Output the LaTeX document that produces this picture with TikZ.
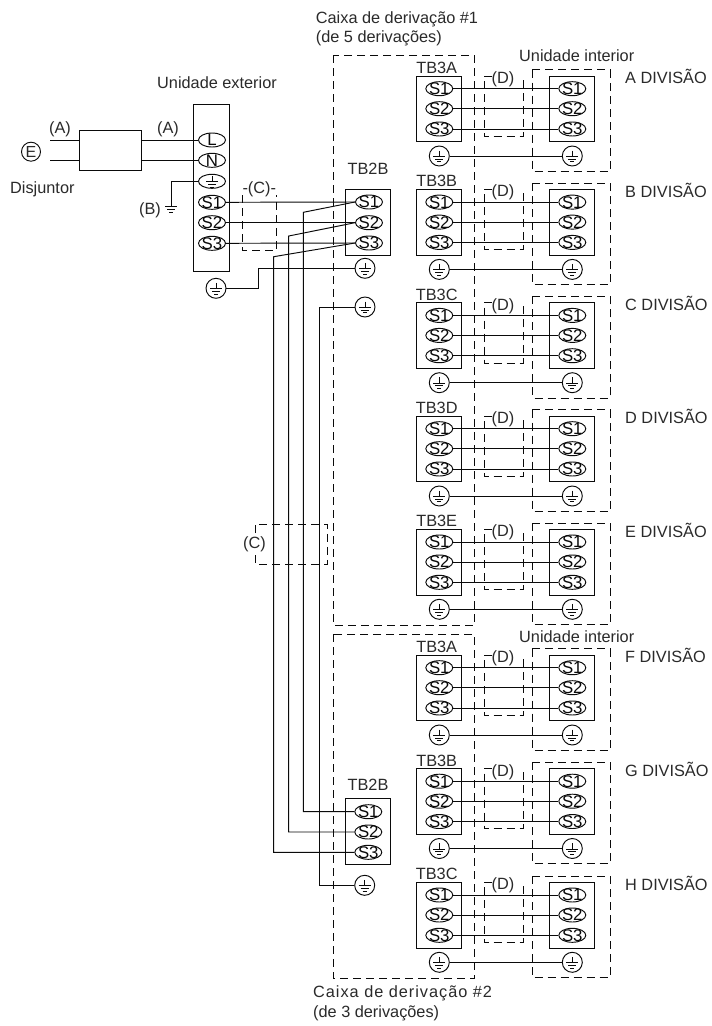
\documentclass[tikz,border=0pt]{standalone}
\usepackage{fontspec}
\setmainfont{Liberation Sans}
\usetikzlibrary{shapes.geometric}
\definecolor{ink}{HTML}{0A0A0A}
\definecolor{txt}{HTML}{2A2A2A}
\newcommand{\intxt}[1]{\makebox[0pt][c]{\raisebox{-5.9pt}[0pt][0pt]{#1}}}
\tikzset{
 wire/.style={draw=ink,line width=0.95pt},
 dash box/.style={draw=ink,line width=0.95pt,dash pattern=on 8pt off 5pt},
 lab/.style={inner sep=0pt,text=txt,font=\fontsize{16.3}{16.3}\selectfont,text height=11.7pt,text depth=0pt},
 lableft/.style={lab,anchor=west},
 block/.style={draw=ink,line width=0.95pt,rectangle,inner sep=0pt},
 term/.style={draw=ink,line width=0.95pt,ellipse,inner sep=0pt,minimum width=27pt,minimum height=14pt,text=ink,font=\fontsize{16.8}{16.8}\selectfont},
 gndsym/.style={path picture={
   \draw[ink,line width=0.95pt] ([yshift=5.5pt]path picture bounding box.center) -- ([yshift=-0.5pt]path picture bounding box.center);
   \draw[ink,line width=0.95pt] ([shift={(-6pt,-0.5pt)}]path picture bounding box.center) -- ([shift={(6pt,-0.5pt)}]path picture bounding box.center);
   \draw[ink,line width=0.95pt] ([shift={(-4pt,-3.2pt)}]path picture bounding box.center) -- ([shift={(4pt,-3.2pt)}]path picture bounding box.center);
   \draw[ink,line width=0.95pt] ([shift={(-2pt,-5.8pt)}]path picture bounding box.center) -- ([shift={(2pt,-5.8pt)}]path picture bounding box.center);
 }},
 gnd/.style={draw=ink,line width=0.95pt,circle,inner sep=0pt,minimum size=20pt,gndsym},
 gndterm/.style={draw=ink,line width=0.95pt,ellipse,inner sep=0pt,minimum width=27pt,minimum height=14pt,gndsym},
}
\begin{document}
\begin{tikzpicture}[x=1pt,y=-1pt]
\useasboundingbox[fill=white] (0,0) rectangle (712,1026);

% Outdoor part
\node[lab] (uext) at (217,82.7) {Unidade exterior};
\node[block,minimum width=36.4pt,minimum height=167pt] (obox) at (211.5,187.8) {};
\node[block,minimum width=61.6pt,minimum height=40pt] (brk) at (110.5,150.3) {};
\node[term] (oL) at (212,140) {\intxt{L}};
\node[term] (oN) at (212,160.3) {\intxt{N}};
\node[gndterm] (oG) at (212,181.3) {};
\node[term] (oS1) at (212,202.3) {\intxt{S1}};
\node[term] (oS2) at (212,222.7) {\intxt{S2}};
\node[term] (oS3) at (212,243.3) {\intxt{S3}};
\node[lab] (a1) at (60,128) {(A)};
\node[lab] (a2) at (168,128) {(A)};
\node[draw=ink,line width=0.95pt,circle,inner sep=0pt,minimum size=19pt,text=txt,font=\fontsize{16}{16}\selectfont] (eE) at (31,151.7) {\intxt{E}};
\node[lableft] (dj) at (10,187.7) {Disjuntor};
\node[lab] (bB) at (150,209) {(B)};
\coordinate (in1) at (50,140);
\coordinate (in2) at (50,160.3);
\draw[wire] (in1) -- (in1-|brk.west);
\draw[wire] (in2) -- (in2-|brk.west);
\draw[wire] (oL.west-|brk.east) -- (oL.west);
\draw[wire] (oN.west-|brk.east) -- (oN.west);
\coordinate (earth) at (171.3,206.7);
\draw[wire] (oG.west) -| (earth);
\draw[wire] (165.3,206.7) -- (177.3,206.7) (167.3,209.6) -- (175.3,209.6) (169.3,212.7) -- (173.3,212.7);

% (C) upper
\draw[dash box] (242.7,195) -- (242.7,250.7) -- (276,250.7) -- (276,195);
\node[lab] (c1) at (259.3,188) {-(C)-};

% TB2B, box 1
\node[lab] (t2a) at (368,168.5) {TB2B};
\node[block,minimum width=45.3pt,minimum height=65.7pt] (tb1) at (368.3,222.2) {};
\node[term] (pS1) at (369,202) {\intxt{S1}};
\node[term] (pS2) at (369,222.7) {\intxt{S2}};
\node[term] (pS3) at (369,243) {\intxt{S3}};
\node[gnd] (pG) at (365,268.3) {};
\node[gnd] (pH) at (365,307) {};
\node[gnd] (oG2) at (216,288.3) {};

% TB2B, box 2
\node[lab] (t2b) at (368,784.7) {TB2B};
\node[block,minimum width=45pt,minimum height=65.6pt] (tb2) at (367.8,831.5) {};
\node[term] (qS1) at (368.3,811.7) {\intxt{S1}};
\node[term] (qS2) at (368.3,832) {\intxt{S2}};
\node[term] (qS3) at (368.3,852.3) {\intxt{S3}};
\node[gnd] (qG) at (364.7,885.3) {};

\draw[wire] (oS1.east) -- (pS1.west);
\draw[wire] (oS2.east) -- (pS2.west);
\draw[wire] (oS3.east) -- (pS3.west);
\coordinate (k1) at (303.3,212.3);
\coordinate (k2) at (288.7,236);
\coordinate (k3) at (273.7,256.7);
\draw[wire] (pS1.west) -- (k1) -- (k1|-qS1.west) -- (qS1.west);
\draw[wire] (pS2.west) -- (k2) -- (k2|-qS2.west) -- (qS2.west);
\draw[wire] (pS3.west) -- (k3) -- (k3|-qS3.west) -- (qS3.west);
\coordinate (k4) at (258.3,288.3);
\draw[wire] (oG2.east) -- (k4) -- (k4|-pG.west) -- (pG.west);
\coordinate (k5) at (319,307);
\draw[wire] (pH.west) -- (k5) -- (k5|-qG.west) -- (qG.west);

% (C) lower
\draw[dash box] (255,533) -- (255,524.3) -- (327.7,524.3) -- (327.7,564) -- (255,564) -- (255,555);
\node[lab] (c2) at (254.5,543) {(C)};

% Branch boxes
\draw[dash box] (333,55) rectangle (474.5,625);
\draw[dash box] (333,634) rectangle (474.5,978);
\node[lableft] (cx1a) at (315.7,18) {Caixa de derivação \#1};
\node[lableft] (cx1b) at (315.7,37) {(de 5 derivações)};
\node[lableft] (cx2a) at (313,992) {\addfontfeature{LetterSpace=6}Caixa de derivação \#2};
\node[lableft] (cx2b) at (313,1012) {(de 3 derivações)};
\node[lableft] (ui1) at (519,56) {Unidade interior};
\node[lableft] (ui2) at (519,636.7) {Unidade interior};

% Rows
\foreach \T/\R/\tb/\dv in {76/A/TB3A/A DIVISÃO,189.4/B/TB3B/B DIVISÃO,302.7/C/TB3C/C DIVISÃO,416/D/TB3D/D DIVISÃO,529.3/E/TB3E/E DIVISÃO,655/F/TB3A/F DIVISÃO,768.5/G/TB3B/G DIVISÃO,882.3/H/TB3C/H DIVISÃO}{
  \node[lab] (tb\R) at (436.7,\T-8.3) {\tb};
  \node[lab] (dv\R) at (503,\T+1.7) {(D)};
  \node[lableft] (name\R) at (625,\T+2) {\dv};
  \draw[dash box] (492,\T) -- (484,\T) -- (484,\T+60.3) -- (523,\T+60.3) -- (523,\T);
  \draw[dash box] (532.3,\T-6.3) rectangle (610,\T+95.3);
  \node[block,minimum width=45pt,minimum height=65.7pt] (bl\R) at (439.2,\T+32.85) {};
  \node[block,minimum width=45pt,minimum height=65.7pt] (br\R) at (571.8,\T+32.85) {};
  \foreach \s/\dy in {S1/12.7,S2/32.7,S3/53}{
    \node[term] (l\R\s) at (439.3,\T+\dy) {\intxt{\s}};
    \node[term] (r\R\s) at (572.3,\T+\dy) {\intxt{\s}};
    \draw[wire] (l\R\s.east) -- (r\R\s.west);
  }
  \node[gnd] (lg\R) at (439.3,\T+80) {};
  \node[gnd] (rg\R) at (572.3,\T+80) {};
  \draw[wire] (lg\R.east) -- (rg\R.west);
}
\end{tikzpicture}
\end{document}
